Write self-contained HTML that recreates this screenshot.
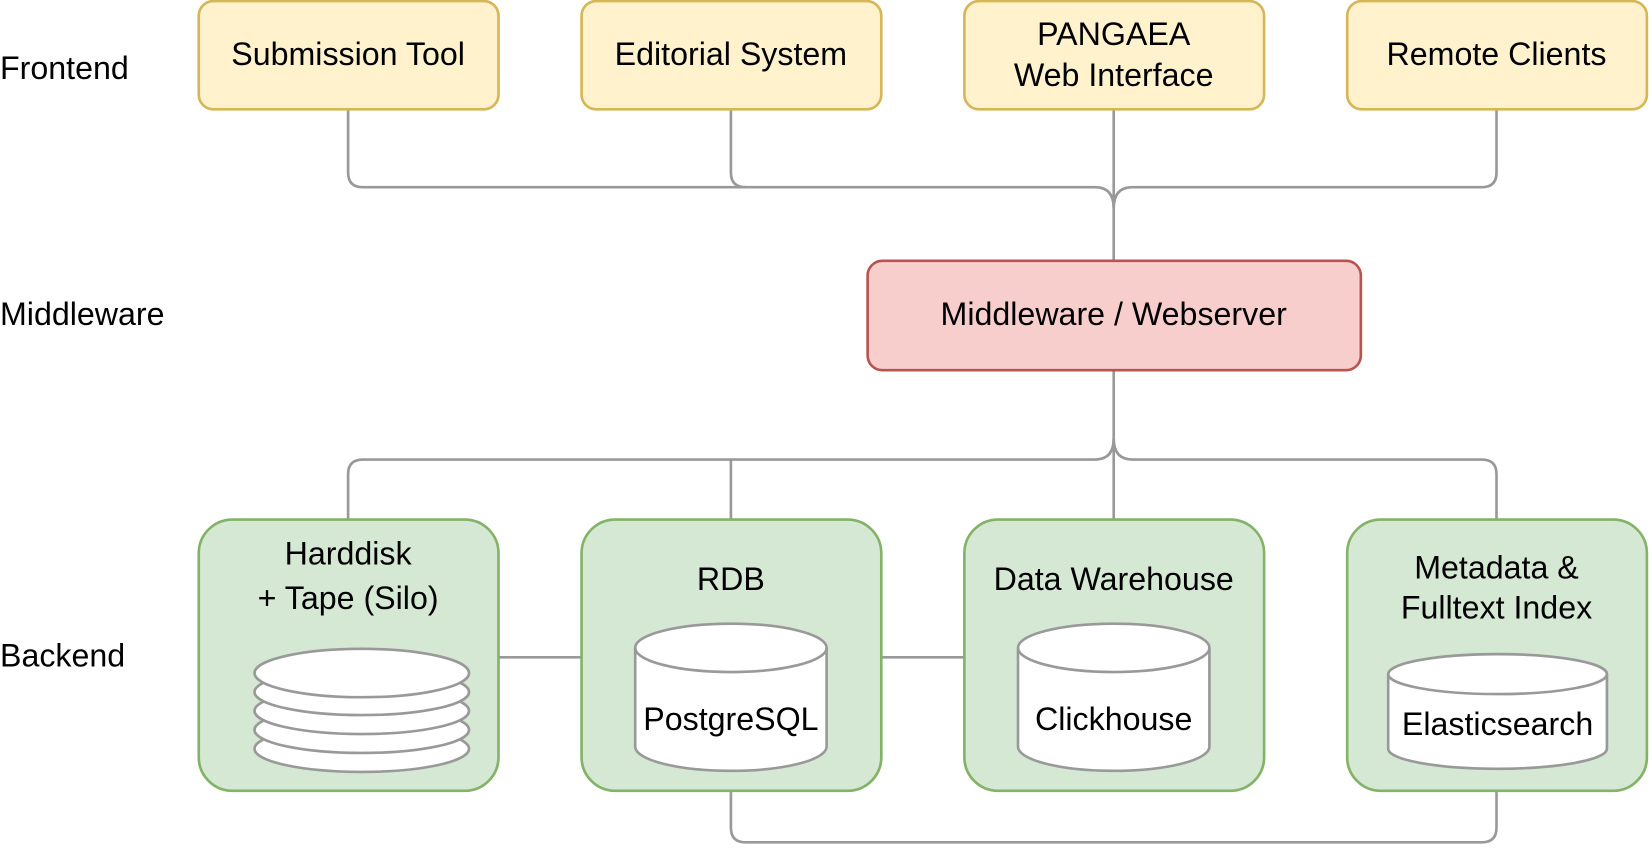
<!DOCTYPE html>
<html><head><meta charset="utf-8"><style>
html,body{margin:0;padding:0;background:#fff;}
text{font-family:"Liberation Sans",Arial,sans-serif;font-size:30.6px;fill:#000;}
</style></head><body>
<svg width="1649" height="845" viewBox="0 0 1568 803.5" preserveAspectRatio="none" xmlns="http://www.w3.org/2000/svg">
<g fill="none" stroke="#999" stroke-width="2.5">
<path d="M331 104 V164 Q331 178 345 178 H1041 Q1059 178 1059 198"/>
<path d="M695 104 V164 Q695 178 709 178"/>
<path d="M1423 104 V164 Q1423 178 1409 178 H1077 Q1059 178 1059 198"/>
<path d="M1059 104 V248"/>
<path d="M1059 352 V494"/>
<path d="M1059 417 Q1059 437 1041 437 H345 Q331 437 331 451 V494"/>
<path d="M695 437 V494"/>
<path d="M1059 417 Q1059 437 1077 437 H1409 Q1423 437 1423 451 V494"/>
<path d="M695 752 V787 Q695 801 709 801 H1409 Q1423 801 1423 787 V752"/>
<path d="M474 625 H553 M838 625 H917"/>
</g>
<g stroke="#d6b656" stroke-width="2.5" fill="#fff2cc">
<rect x="189" y="1" width="285" height="103" rx="14"/>
<rect x="553" y="1" width="285" height="103" rx="14"/>
<rect x="917" y="1" width="285" height="103" rx="14"/>
<rect x="1281" y="1" width="285" height="103" rx="14"/>
</g>
<rect x="825" y="248" width="469" height="104" rx="14" fill="#f8cecc" stroke="#b85450" stroke-width="2.5"/>
<g stroke="#82b366" stroke-width="2.5" fill="#d5e8d4">
<rect x="189" y="494" width="285" height="258" rx="32"/>
<rect x="553" y="494" width="285" height="258" rx="32"/>
<rect x="917" y="494" width="285" height="258" rx="32"/>
<rect x="1281" y="494" width="285" height="258" rx="32"/>
</g>
<g stroke="#999" stroke-width="2.5" fill="#fff">
<ellipse cx="344" cy="712" rx="102" ry="22"/>
<ellipse cx="344" cy="694" rx="102" ry="22"/>
<ellipse cx="344" cy="676" rx="102" ry="22"/>
<ellipse cx="344" cy="658" rx="102" ry="22"/>
<ellipse cx="344" cy="640" rx="102" ry="23"/>
<path d="M604 616 V710 A91 23 0 0 0 786 710 V616"/>
<ellipse cx="695" cy="616" rx="91" ry="23"/>
<path d="M968 616 V710 A91 23 0 0 0 1150 710 V616"/>
<ellipse cx="1059" cy="616" rx="91" ry="23"/>
<path d="M1320 641 V712 A104 19 0 0 0 1528 712 V641"/>
<ellipse cx="1424" cy="641" rx="104" ry="19"/>
</g>
<text x="0" y="75">Frontend</text>
<text x="0" y="309">Middleware</text>
<text x="0" y="634">Backend</text>
<g text-anchor="middle">
<text x="331" y="62">Submission Tool</text>
<text x="695" y="62">Editorial System</text>
<text x="1059" y="43">PANGAEA</text>
<text x="1059" y="82">Web Interface</text>
<text x="1423" y="62">Remote Clients</text>
<text x="1059" y="309">Middleware / Webserver</text>
<text x="331" y="537">Harddisk</text>
<text x="331" y="579">+ Tape (Silo)</text>
<text x="695" y="561">RDB</text>
<text x="1059" y="561">Data Warehouse</text>
<text x="1423" y="550">Metadata &amp;</text>
<text x="1423" y="588">Fulltext Index</text>
<text x="695" y="694">PostgreSQL</text>
<text x="1059" y="694">Clickhouse</text>
<text x="1424" y="699">Elasticsearch</text>
</g>
</svg>
</body></html>
